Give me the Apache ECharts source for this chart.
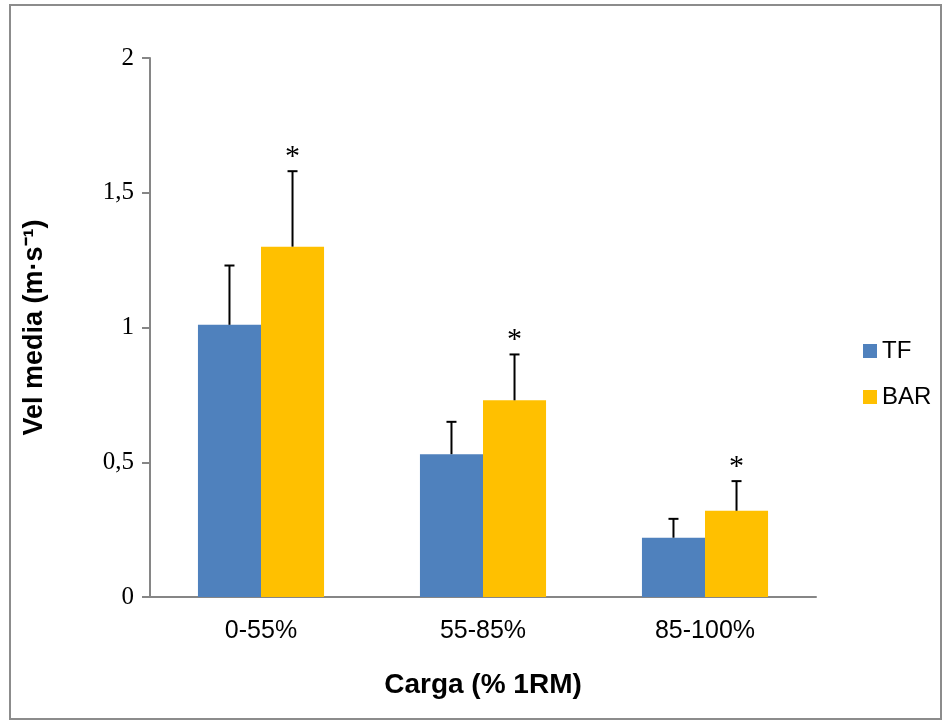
<!DOCTYPE html>
<html>
<head>
<meta charset="utf-8">
<script src="https://cdn.jsdelivr.net/npm/echarts@6/dist/echarts.min.js"></script>
<style>
  html, body { margin: 0; padding: 0; background: #fff; }
  #chart { width: 947px; height: 724px; }
</style>
</head>
<body>
<div id="chart"></div>
<script>
// datos
const categories = ['0-55%', '55-85%', '85-100%'];
const tfMean = [1.01, 0.53, 0.22];
const tfSd = [0.22, 0.12, 0.07];
const barMean = [1.30, 0.73, 0.32];
const barSd = [0.28, 0.17, 0.11];
const barSig = [true, true, true];   // asterisco sobre BAR
const yTicks = [0, 0.5, 1, 1.5, 2];

const BAR_FRAC = 0.284; // ancho de cada barra respecto a la categoría

// error bar + asterisco, dibujado con las escalas del eje
function errorSeries(means, sds, sig, side) {
  return {
    type: 'custom',
    z: 5,
    silent: true,
    data: means.map((m, i) => [i, m, m + sds[i], sig ? (sig[i] ? 1 : 0) : 0]),
    renderItem: (params, api) => {
      const i = api.value(0);
      const bw = api.size([1, 0])[0] * BAR_FRAC;
      const base = api.coord([i, api.value(1)]);
      const top = api.coord([i, api.value(2)]);
      const x = base[0] + side * bw / 2;
      const children = [
        { type: 'line', shape: { x1: x, y1: base[1], x2: x, y2: top[1] },
          style: { stroke: '#000', lineWidth: 2 } },
        { type: 'line', shape: { x1: x - 5, y1: top[1], x2: x + 5, y2: top[1] },
          style: { stroke: '#000', lineWidth: 2 } }
      ];
      if (api.value(3)) {
        children.push({
          type: 'text',
          style: { text: '*', x: x, y: top[1] + 1, align: 'center', verticalAlign: 'bottom',
                   font: '30px "Liberation Serif", serif', fill: '#000' }
        });
      }
      return { type: 'group', children: children };
    }
  };
}

const chart = echarts.init(document.getElementById('chart'));
chart.setOption({
  animation: false,
  backgroundColor: '#fff',
  graphic: [{
    type: 'rect', shape: { x: 10, y: 5, width: 931, height: 714 },
    style: { fill: 'none', stroke: '#8c8c8c', lineWidth: 2 }, silent: true
  }],
  grid: { left: 150, right: 131, top: 58, bottom: 127 },
  legend: {
    orient: 'vertical', left: 858, top: 334, itemGap: 22,
    itemWidth: 14, itemHeight: 14, icon: 'rect',
    textStyle: { fontFamily: 'Liberation Sans', fontSize: 24, color: '#000' },
    data: ['TF', 'BAR']
  },
  xAxis: {
    type: 'category', data: categories,
    axisLine: { lineStyle: { color: '#868686', width: 2 } },
    axisTick: { show: false },
    axisLabel: { fontFamily: 'Liberation Sans', fontSize: 25, color: '#000', margin: 22 },
    name: 'Carga (% 1RM)', nameLocation: 'middle', nameGap: 74,
    nameTextStyle: { fontFamily: 'Liberation Sans', fontSize: 28, fontWeight: 'bold', color: '#000' }
  },
  yAxis: {
    type: 'value', min: yTicks[0], max: yTicks[yTicks.length - 1], interval: 0.5,
    splitLine: { show: false },
    axisLine: { show: true, lineStyle: { color: '#868686', width: 2 } },
    axisTick: { show: true, length: 8, lineStyle: { color: '#868686', width: 2 } },
    axisLabel: {
      fontFamily: 'Liberation Serif', fontSize: 25, color: '#000', margin: 16,
      formatter: v => String(v).replace('.', ',')
    },
    name: 'Vel media (m·s⁻¹)', nameLocation: 'middle', nameGap: 102,
    nameTextStyle: { fontFamily: 'Liberation Sans', fontSize: 27, fontWeight: 'bold', color: '#000' }
  },
  series: [
    { name: 'TF', type: 'bar', data: tfMean, barWidth: (BAR_FRAC * 100) + '%', barGap: '0%',
      itemStyle: { color: '#4f81bd' } },
    { name: 'BAR', type: 'bar', data: barMean, barWidth: (BAR_FRAC * 100) + '%', barGap: '0%',
      itemStyle: { color: '#ffc000' } },
    errorSeries(tfMean, tfSd, null, -1),
    errorSeries(barMean, barSd, barSig, 1)
  ]
});
</script>
</body>
</html>
